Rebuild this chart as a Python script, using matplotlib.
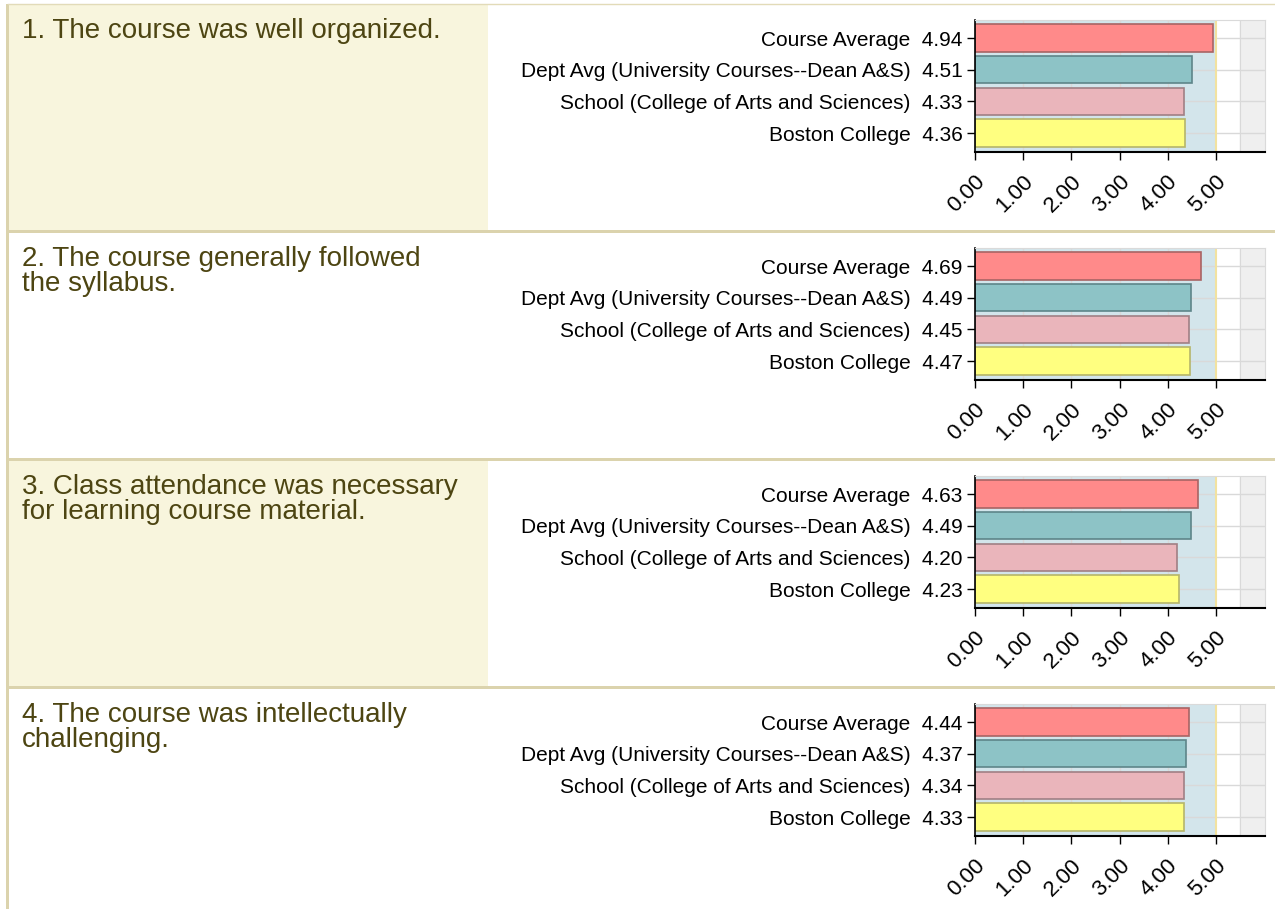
import matplotlib
matplotlib.use("Agg")
import matplotlib.pyplot as plt
import matplotlib.transforms as mtransforms
from matplotlib.patches import Rectangle

# survey data, one row per question
questions = [
    "1. The course was well organized.",
    "2. The course generally followed\nthe syllabus.",
    "3. Class attendance was necessary\nfor learning course material.",
    "4. The course was intellectually\nchallenging.",
]
groups = [
    "Course Average",
    "Dept Avg (University Courses--Dean A&S)",
    "School (College of Arts and Sciences)",
    "Boston College",
]
course_avg = [4.94, 4.69, 4.63, 4.44]
dept_avg = [4.51, 4.49, 4.49, 4.37]
school_avg = [4.33, 4.45, 4.20, 4.34]
bc_avg = [4.36, 4.47, 4.23, 4.33]
xticks = [0, 1, 2, 3, 4, 5]

bar_colors = ["#FF8A8A", "#8DC3C6", "#EAB5BB", "#FFFF80"]
bar_edges = ["#A86464", "#5E8589", "#A07F84", "#B5B56A"]

sans = ["Liberation Sans", "Arial", "DejaVu Sans"]

W, H = 1275, 909
fig = plt.figure(figsize=(W / 100, H / 100), dpi=100)
fig.patch.set_facecolor("white")

# page background (table cells, borders, headings) in pixel coords
bg = fig.add_axes([0, 0, 1, 1])
bg.set_xlim(0, W)
bg.set_ylim(H, 0)
bg.axis("off")

row_top = [5, 233, 461, 689]
row_h = 226
line_col = "#DBD3AD"
cream = "#F8F5DD"

for i, top in enumerate(row_top):
    bottom = top + row_h if i < 3 else H
    if i % 2 == 0:
        bg.add_patch(Rectangle((8, top), 480, bottom - top, facecolor=cream,
                               edgecolor="none"))
    bg.text(22, top + 13, questions[i], fontsize=20, family=sans,
            color="#4D4512", va="top", ha="left", linespacing=0.95)
    if i < 3:
        bg.add_patch(Rectangle((8, bottom - 1), W - 8, 3, facecolor=line_col,
                               edgecolor="none"))
bg.plot([8, W], [4, 4], color="#E2DBB8", lw=1)
bg.add_patch(Rectangle((6, 4), 2.5, H - 4, facecolor=line_col, edgecolor="none"))

shift = mtransforms.ScaledTranslation(7 / 100, -4 / 100, fig.dpi_scale_trans)

for i in range(4):
    vals = [course_avg[i], dept_avg[i], school_avg[i], bc_avg[i]]
    top_px = 20 + 228 * i
    bot_px = 152 + 228 * i
    ax = fig.add_axes([975 / W, 1 - bot_px / H, 290 / W, (bot_px - top_px) / H])
    ax.set_facecolor("#EFEFEF")
    ax.axvspan(0, 5, color="#D3E5EB", zorder=0)
    ax.axvspan(5, 5.5, color="white", zorder=0)
    for gx in [1, 2, 3, 4, 5.5]:
        ax.axvline(gx, color="#D9D9D9", lw=1, zorder=0.5)
    for gy in range(4):
        ax.axhline(gy, color="#D9D9D9", lw=1, zorder=0.5)
    ax.axvline(5, color="#F2E2A0", lw=1.5, zorder=0.6)

    ypos = list(range(len(groups)))
    ax.barh(ypos, vals, height=0.86, color=bar_colors, edgecolor=bar_edges,
            linewidth=1.2, zorder=2)
    ax.set_xlim(0, 6.02)
    ax.set_ylim(3.6, -0.57)

    ax.set_yticks(ypos)
    ax.set_yticklabels([f"{g}  {v:.2f}" for g, v in zip(groups, vals)],
                       family=sans, fontsize=15)
    ax.set_xticks(xticks)
    ax.set_xticklabels([f"{t:.2f}" for t in xticks], rotation=45, ha="right",
                       va="center", rotation_mode="anchor",
                       family=sans, fontsize=16)
    ax.tick_params(axis="y", length=6, width=1, pad=3, colors="black")
    ax.tick_params(axis="x", length=6, width=1, pad=10, colors="black")
    for lab in ax.get_xticklabels():
        lab.set_transform(lab.get_transform() + shift)

    for side in ["top", "right"]:
        ax.spines[side].set_color("#DADADA")
    ax.spines["left"].set_color("black")
    ax.spines["bottom"].set_color("black")
    ax.spines["bottom"].set_linewidth(1.5)
    ax.spines["left"].set_linewidth(1.2)

fig.savefig("out.png", dpi=100)
